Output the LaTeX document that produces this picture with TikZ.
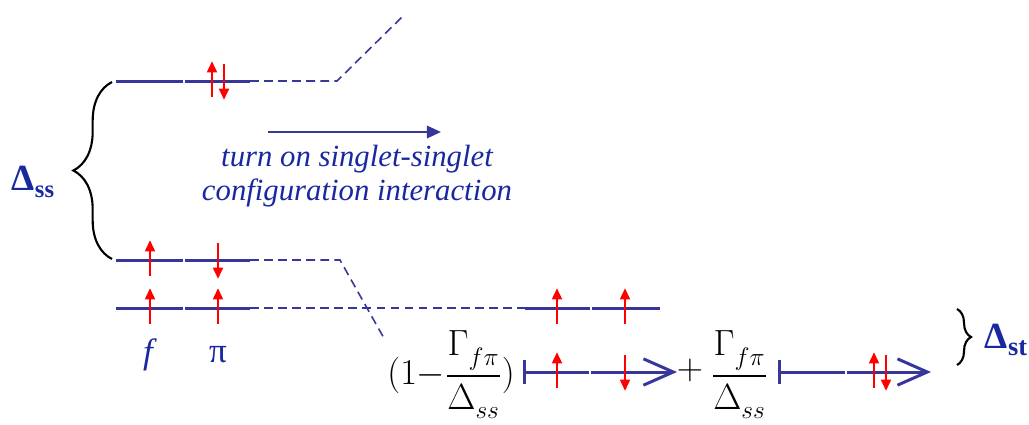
\documentclass[tikz,border=0pt]{standalone}
\usepackage{amsmath}
\usepackage{fontspec}
\setmainfont{Liberation Serif}
\usetikzlibrary{arrows.meta, positioning, decorations.pathreplacing}
\definecolor{lvlblue}{RGB}{55,55,155}
\definecolor{txtblue}{RGB}{25,40,160}
\tikzset{
	level/.style={draw=lvlblue, line width=1.7pt},
	corr/.style={draw=lvlblue, line width=0.9pt, dash pattern=on 5pt off 3pt},
	spinup/.style={draw=red, line width=1.6pt, -{Triangle[length=6.5pt,width=5.5pt]}},
	spindn/.style={spinup},
	ketstart/.style={level, {Bar[width=14pt,line width=1.7pt]}-},
	ketend/.style={level, -{Straight Barb[length=17pt,width=15pt,line width=1.7pt]}},
	ciarrow/.style={draw=lvlblue, line width=1.4pt, -{Triangle[length=8pt,width=7pt]}},
	citext/.style={text=txtblue, font=\fontsize{17.5}{19.5}\selectfont\itshape, align=center},
	orblabel/.style={text=txtblue, font=\fontsize{20}{24}\selectfont},
	gaplabel/.style={text=txtblue, font=\fontsize{21}{26}\selectfont\bfseries},
	coef/.style={font=\fontsize{20}{24}\selectfont},
	gapbrace/.style={draw=black, line width=1.2pt, decorate}
}
\begin{document}
\begin{tikzpicture}[x=0.02cm, y=-0.02cm]
	\useasboundingbox (0,0) rectangle (1029,424);
	
	% Left levels: upper singlet, lower singlet, triplet
	\foreach \name/\y in {sup/81, sdn/260, trp/308} {
		\coordinate (\name-L) at (116,\y);
		\coordinate (\name-M) at (184,\y);
		\coordinate (\name-R) at (250,\y);
		\draw[level] (\name-L) -- ([xshift=-0.6pt]\name-M);
		\draw[level] ([xshift=0.6pt]\name-M) -- (\name-R);
	}
	
	% Correlation lines
	\coordinate (sup-K) at (337,81);
	\coordinate (sup-E) at (402,17);
	\coordinate (sdn-K) at (340,260);
	\coordinate (sdn-E) at (385,340);
	\coordinate (trpB-L) at (525,308);
	\coordinate (trpB-M) at (591,308);
	\coordinate (trpB-R) at (660,308);
	\draw[corr] (sup-R) -- (sup-K) -- (sup-E);
	\draw[corr] (sdn-R) -- (sdn-K) -- (sdn-E);
	\draw[corr] (trp-R) -- (trpB-L);
	\draw[level] (trpB-L) -- ([xshift=-0.6pt]trpB-M);
	\draw[level] ([xshift=0.6pt]trpB-M) -- (trpB-R);
	
	% Braces
	\draw[gapbrace, decoration={brace, amplitude=22pt}] (112,259) -- (112,82);
	\draw[gapbrace, decoration={brace, amplitude=8pt}] (957,309) -- (957,365);
	\node[gaplabel] (gap-ss) at (33,182) {Δ{\fontsize{14}{16}\selectfont\raisebox{-4pt}{ss}}};
	\node[gaplabel] (gap-st) at (1006,340) {Δ{\fontsize{15}{16}\selectfont\raisebox{-4pt}{st}}};
	
	% Configuration interaction
	\coordinate (ci-start) at (268,132);
	\coordinate (ci-end) at (441,132);
	\draw[ciarrow] (ci-start) -- (ci-end);
	\node[citext] (ci-text) at (357,176) {turn on singlet-singlet\\configuration interaction};
	
	% Orbital labels
	\node[orblabel] (lab-f) at (150,355) {\textit{f}};
	\node[orblabel] (lab-pi) at (218,355) {π};
	
	% Mixed singlet state
	\node[coef, anchor=east] (coef-1) at (521,372) {$\displaystyle(1{-}\frac{\Gamma_{f\pi}^{\vphantom{A}}}{\Delta_{ss}^{\vphantom{A}}})$};
	\coordinate (ket1-L) at (523,372);
	\coordinate (ket1-M) at (590,372);
	\coordinate (ket1-R) at (677,372);
	\draw[ketstart] (ket1-L) -- ([xshift=-0.6pt]ket1-M);
	\draw[ketend] ([xshift=0.6pt]ket1-M) -- (ket1-R);
	\node[coef] (plus) at (690,370) {$+$};
	\node[coef, anchor=east] (coef-2) at (774,372) {$\displaystyle\frac{\Gamma_{f\pi}^{\vphantom{A}}}{\Delta_{ss}^{\vphantom{A}}}$};
	\coordinate (ket2-L) at (778,372);
	\coordinate (ket2-M) at (846,372);
	\coordinate (ket2-R) at (931,372);
	\draw[ketstart] (ket2-L) -- ([xshift=-0.6pt]ket2-M);
	\draw[ketend] ([xshift=0.6pt]ket2-M) -- (ket2-R);
	
	% Spins
	\foreach \x/\y in {150/260, 150/308, 218/308, 557/308, 625/308, 557/372, 212/81, 874/372}
		\draw[spinup] (\x,{\y+16}) -- (\x,{\y-20});
	\foreach \x/\y in {218/260, 625/372, 224/81, 886/372}
		\draw[spindn] (\x,{\y-17}) -- (\x,{\y+19});
\end{tikzpicture}
\end{document}
